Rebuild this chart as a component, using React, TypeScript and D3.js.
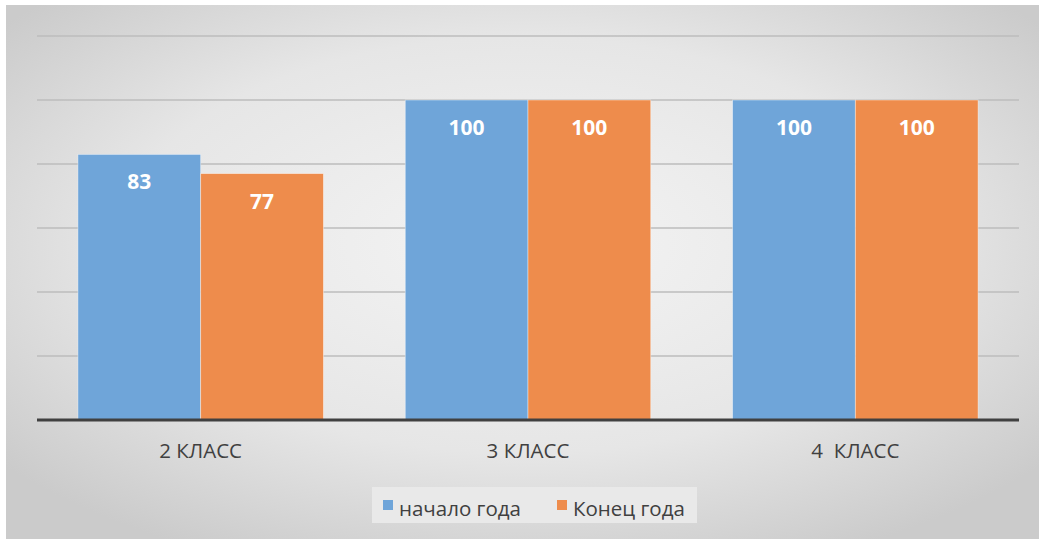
import React from "react";
import * as d3 from "d3";

const categories = ["2 КЛАСС", "3 КЛАСС", "4  КЛАСС"];
const seriesNames = ["начало года", "Конец года"];
const startValues = [83, 100, 100];
const endValues = [77, 100, 100];
const gridTicks = [20, 40, 60, 80, 100, 120];

const W = 1039;
const H = 539;
const colors = ["#6FA5D9", "#EE8C4C"];

export default function App() {
  const x0 = d3.scaleBand<string>().domain(categories).range([37, 1019]).paddingInner(0.25).paddingOuter(0.125);
  const x1 = d3.scaleBand<string>().domain(seriesNames).range([0, x0.bandwidth()]).padding(0);
  const y = d3.scaleLinear().domain([0, 120]).range([420, 36]);
  const series = [startValues, endValues];
  const font = "'Open Sans', 'Noto Sans', sans-serif";

  return (
    <svg width={W} height={H} style={{ position: "absolute", left: 0, top: 0 }} fontFamily={font}>
      <defs>
        <radialGradient id="bg" cx="50%" cy="45%" r="65%">
          <stop offset="0%" stopColor="#f4f4f4" />
          <stop offset="60%" stopColor="#e6e6e6" />
          <stop offset="100%" stopColor="#cbcbcb" />
        </radialGradient>
      </defs>
      <rect x={0} y={0} width={W} height={H} fill="#ffffff" />
      <rect x={6} y={5} width={W - 6} height={H - 5} fill="url(#bg)" />
      {gridTicks.map((t) => (
        <line key={t} x1={37} x2={1019} y1={y(t)} y2={y(t)} stroke="#bdbdbd" strokeWidth={1.5} />
      ))}
      {categories.map((c, i) => (
        <g key={c} transform={`translate(${x0(c)},0)`}>
          {seriesNames.map((s, j) => {
            const v = series[j][i];
            const bx = x1(s)!;
            return (
              <g key={s}>
                <rect x={bx} y={y(v)} width={x1.bandwidth()} height={y(0) - y(v)} fill={colors[j]} stroke="#ffffff" strokeOpacity={0.5} strokeWidth={0.8} />
                <text x={bx + x1.bandwidth() / 2} y={y(v) + 35} textAnchor="middle" fill="#ffffff" fontWeight="bold" fontSize={21}>
                  {v}
                </text>
              </g>
            );
          })}
        </g>
      ))}
      <line x1={37} x2={1019} y1={y(0)} y2={y(0)} stroke="#404040" strokeWidth={3} />
      {categories.map((c) => (
        <text key={c} x={x0(c)! + x0.bandwidth() / 2} y={458} textAnchor="middle" fill="#404040" fontSize={20.5} style={{ whiteSpace: "pre" }}>
          {c}
        </text>
      ))}
      <rect x={372} y={487} width={325} height={36} fill="#e9e9e9" />
      {seriesNames.map((s, j) => {
        const lx = j === 0 ? 383 : 557;
        return (
          <g key={s}>
            <rect x={lx} y={500} width={10} height={10} fill={colors[j]} />
            <text x={lx + 16} y={516} fill="#404040" fontSize={20.5}>
              {s}
            </text>
          </g>
        );
      })}
    </svg>
  );
}
